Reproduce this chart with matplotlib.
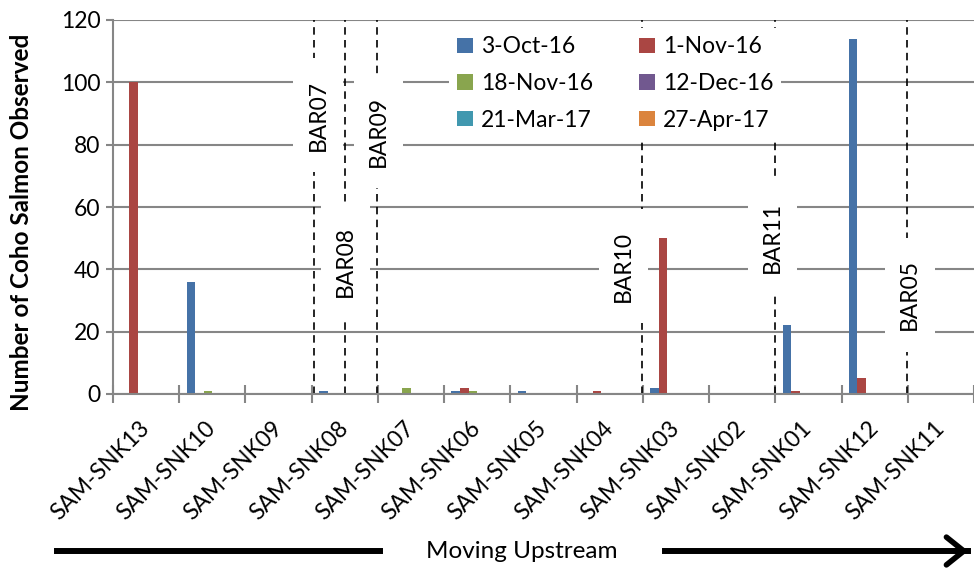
import numpy as np
import matplotlib.pyplot as plt
from matplotlib.patches import Rectangle, FancyArrowPatch
from matplotlib.lines import Line2D

plt.rcParams['font.family'] = ['Lato', 'DejaVu Sans']

# Data
sites = ['SAM-SNK13', 'SAM-SNK10', 'SAM-SNK09', 'SAM-SNK08', 'SAM-SNK07', 'SAM-SNK06',
         'SAM-SNK05', 'SAM-SNK04', 'SAM-SNK03', 'SAM-SNK02', 'SAM-SNK01', 'SAM-SNK12',
         'SAM-SNK11']
dates = ['3-Oct-16', '1-Nov-16', '18-Nov-16', '12-Dec-16', '21-Mar-17', '27-Apr-17']
oct03 = [0, 36, 0, 1, 0, 1, 1, 0, 2, 0, 22, 114, 0]
nov01 = [100, 0, 0, 0, 0, 2, 0, 1, 50, 0, 1, 5, 0]
nov18 = [0, 1, 0, 0, 2, 1, 0, 0, 0, 0, 0, 0, 0]
dec12 = [0] * 13
mar21 = [0] * 13
apr27 = [0] * 13
series = [oct03, nov01, nov18, dec12, mar21, apr27]
colors = ['#4572A7', '#AA4643', '#89A54E', '#71588F', '#4198AF', '#DB843D']

# barrier markers: name, line position, label x, label y (centre of gap)
barriers = ['BAR07', 'BAR08', 'BAR09', 'BAR10', 'BAR11', 'BAR05']
bar_line_x = [2.53, 3.01, 3.49, 7.49, 9.49, 11.49]
bar_label_x = [2.6, 3.01, 3.51, 7.21, 9.46, 11.53]
bar_label_y = [89.5, 42.5, 84.2, 41.0, 50.2, 31.8]

fig = plt.figure(figsize=(9.74, 5.68), dpi=100)
ax = fig.add_axes([113 / 974, 1 - 394 / 568, 1 - 113 / 974, 374 / 568])

x = np.arange(len(sites))
w = 0.13
for i, (vals, c, lab) in enumerate(zip(series, colors, dates)):
    ax.bar(x + (i - 2.5) * w, vals, w, color=c, label=lab, zorder=2.5)

ax.set_xlim(-0.5, 12.41)
ax.set_ylim(0, 120)
ax.set_yticks(range(0, 121, 20))
ax.yaxis.grid(True, color='#868686', linewidth=1.5, zorder=0.5)
ax.set_axisbelow(True)
ax.set_xticks(np.arange(-0.5, 13, 1), minor=False)
ax.set_xticklabels([])
ax.set_xticks(x, minor=True)
ax.set_xticklabels(sites, minor=True, rotation=45, ha='right', va='center',
                   rotation_mode='anchor', fontsize=16.5)
ax.tick_params(axis='x', which='minor', length=0, pad=22)
ax.tick_params(axis='x', which='major', direction='inout', length=13,
               color='#868686', width=1.5)
ax.tick_params(axis='y', direction='out', length=5, color='#868686', width=1.5,
               labelsize=16.5, pad=4)
for s in ['top', 'right']:
    ax.spines[s].set_visible(False)
for s in ['left', 'bottom']:
    ax.spines[s].set_color('#868686')
    ax.spines[s].set_linewidth(1.5)
ax.set_ylabel('Number of Coho Salmon Observed', fontsize=17.5, fontweight='bold')
ax.yaxis.set_label_coords(-0.093, 0.46)

# barrier dashed lines with labels
for name, lx, tx, ty in zip(barriers, bar_line_x, bar_label_x, bar_label_y):
    ax.vlines(lx, 0, 120, colors='black', linewidth=1.2,
              linestyles=(0, (4.5, 3.2)), zorder=2)
    ax.add_patch(Rectangle((tx - 0.375, ty - 18.25), 0.75, 36.5, facecolor='white',
                           edgecolor='none', zorder=3))
    ax.text(tx, ty, name, rotation=90, ha='center', va='center', fontsize=16.5,
            zorder=4)

handles, labels = ax.get_legend_handles_labels()
order = [0, 2, 4, 1, 3, 5]
leg = ax.legend([handles[i] for i in order], [labels[i] for i in order], ncol=2,
                loc='upper left', bbox_to_anchor=(438 / 974, 1 - 17 / 568),
                bbox_transform=fig.transFigure, fontsize=16.5, frameon=True,
                fancybox=False, framealpha=1, edgecolor='none', facecolor='white',
                handlelength=0.68, handleheight=0.68, handletextpad=0.35,
                columnspacing=2.0, labelspacing=0.68, borderpad=0.35)
leg.set_zorder(6)

# bottom "Moving Upstream" arrow
fig.add_artist(Line2D([57 / 974, 380 / 974], [1 - 551 / 568] * 2, color='black',
                      linewidth=4.3, transform=fig.transFigure))
fig.text(522 / 974, 1 - 551 / 568, 'Moving Upstream', ha='center', va='center',
         fontsize=17.5)
fig.add_artist(Line2D([665 / 974, 968 / 974], [1 - 551 / 568] * 2, color='black',
                      linewidth=4.3, transform=fig.transFigure))
fig.add_artist(FancyArrowPatch((950 / 974, 1 - 551 / 568), (971 / 974, 1 - 551 / 568),
                               transform=fig.transFigure, color='black', linewidth=4,
                               arrowstyle='->,head_length=5,head_width=4',
                               mutation_scale=2.5))

fig.savefig('out.png', dpi=100)
